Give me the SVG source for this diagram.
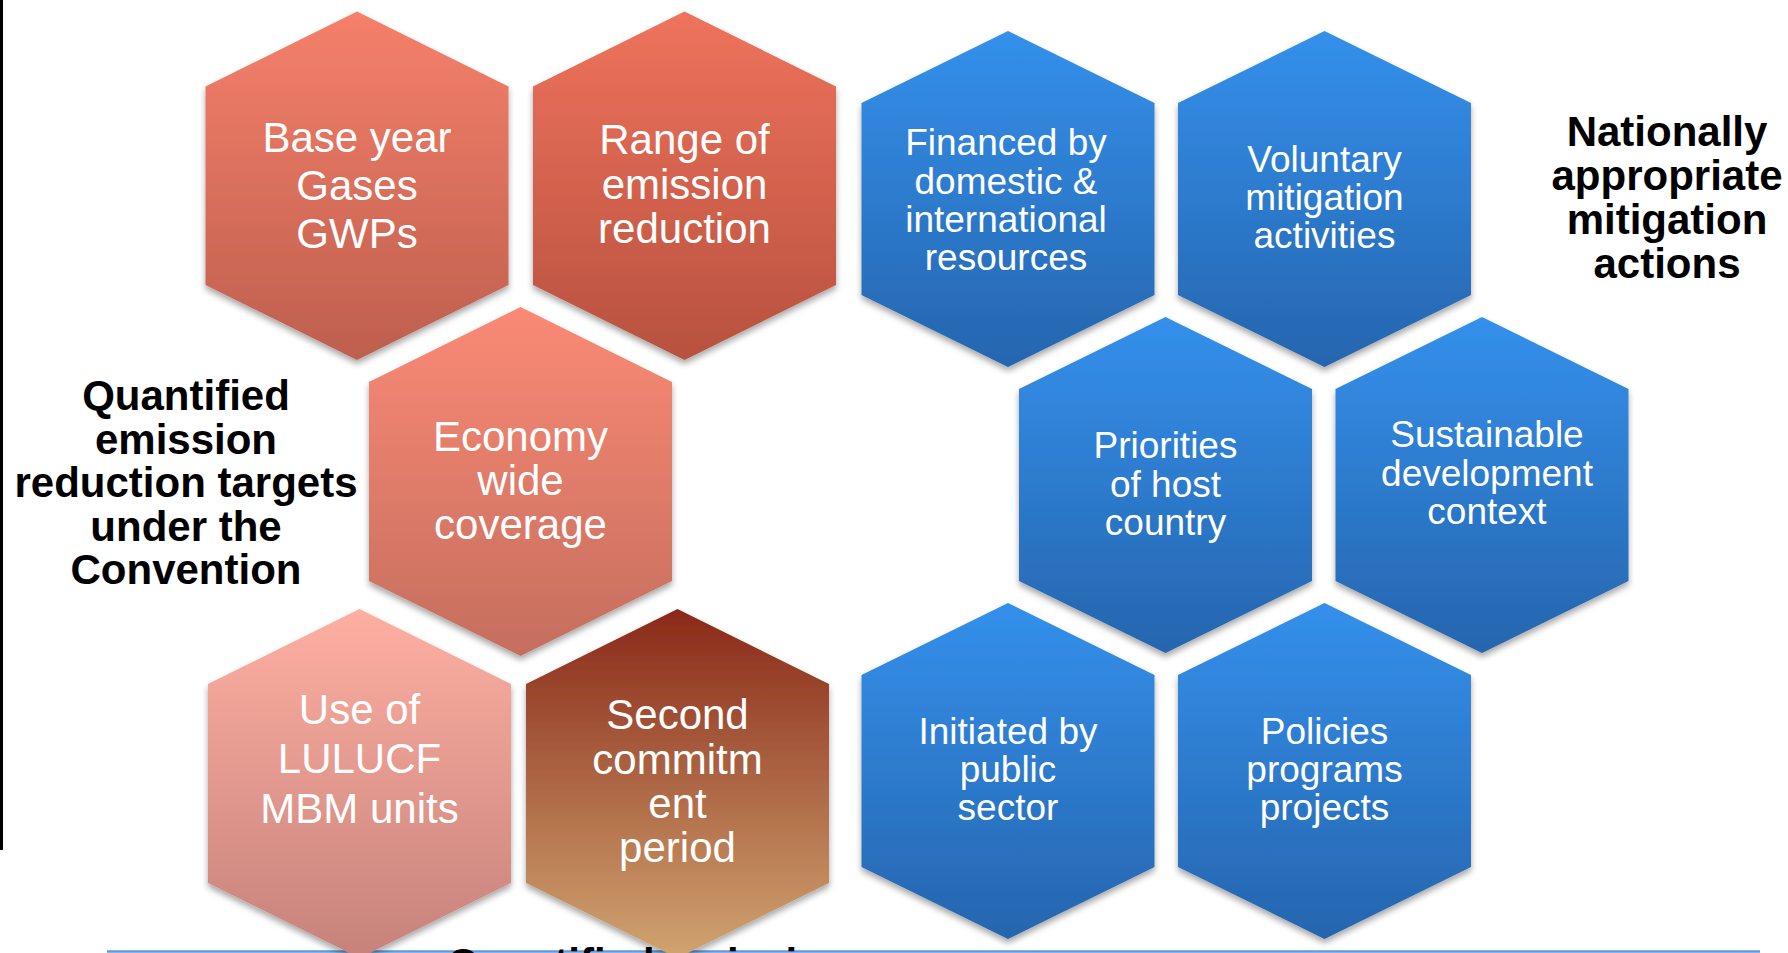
<svg xmlns="http://www.w3.org/2000/svg" width="1788" height="953" viewBox="0 0 1788 953">
<defs>
<linearGradient id="gOr1" x1="0" y1="0" x2="0" y2="1"><stop offset="0" stop-color="#F5806B"/><stop offset="1" stop-color="#BE5F4E"/></linearGradient>
<linearGradient id="gOr2" x1="0" y1="0" x2="0" y2="1"><stop offset="0" stop-color="#EF735C"/><stop offset="1" stop-color="#B7513F"/></linearGradient>
<linearGradient id="gOr3" x1="0" y1="0" x2="0" y2="1"><stop offset="0" stop-color="#FA8A75"/><stop offset="1" stop-color="#C56E5E"/></linearGradient>
<linearGradient id="gPink" x1="0" y1="0" x2="0" y2="1"><stop offset="0" stop-color="#FEAFA2"/><stop offset="1" stop-color="#C6827A"/></linearGradient>
<linearGradient id="gBrown" x1="0" y1="0" x2="0" y2="1"><stop offset="0" stop-color="#8A2919"/><stop offset="1" stop-color="#D0A470"/></linearGradient>
<linearGradient id="gBlue" x1="0" y1="0" x2="0" y2="1"><stop offset="0" stop-color="#3490EB"/><stop offset="1" stop-color="#2665AE"/></linearGradient>
<filter id="sh" x="-10%" y="-10%" width="120%" height="125%">
<feDropShadow dx="0" dy="4" stdDeviation="3" flood-color="#000" flood-opacity="0.35"/>
</filter>
</defs>
<style>
.hex{filter:url(#sh);}
.ht{font-family:"Liberation Sans",Arial,sans-serif;fill:#fff;text-anchor:middle;}
.o{font-size:42px;}
.b{font-size:37px;}
.lbl{font-family:"Liberation Sans",Arial,sans-serif;font-weight:bold;font-size:42px;fill:#000;text-anchor:middle;}
</style>
<rect width="1788" height="953" fill="#fff"/>
<rect x="0" y="0" width="3" height="850" fill="#000"/>
<line x1="107" y1="951.5" x2="1760" y2="951.5" stroke="#5B9BE0" stroke-width="2.5"/>

<g id="connectors"></g>

<g id="hex-base-year">
<polygon class="hex" fill="url(#gOr1)" points="357,11.5 508.5,86.5 508.5,285 357,360 205.5,285 205.5,86.5"/>
<text class="ht o"><tspan x="357" y="152">Base year</tspan><tspan x="357" y="200">Gases</tspan><tspan x="357" y="248">GWPs</tspan></text>
</g>
<g id="hex-range">
<polygon class="hex" fill="url(#gOr2)" points="684.5,11.5 836,86.5 836,285 684.5,360 533,285 533,86.5"/>
<text class="ht o"><tspan x="684.5" y="154">Range of</tspan><tspan x="684.5" y="198.5">emission</tspan><tspan x="684.5" y="243">reduction</tspan></text>
</g>
<g id="hex-economy">
<polygon class="hex" fill="url(#gOr3)" points="520.5,307 672,382 672,581 520.5,656 369,581 369,382"/>
<text class="ht o"><tspan x="520.5" y="451">Economy</tspan><tspan x="520.5" y="495">wide</tspan><tspan x="520.5" y="539">coverage</tspan></text>
</g>
<g id="hex-lulucf">
<polygon class="hex" fill="url(#gPink)" points="359.5,609 511,684 511,883 359.5,958 208,883 208,684"/>
<text class="ht o"><tspan x="359.5" y="724">Use of</tspan><tspan x="359.5" y="773">LULUCF</tspan><tspan x="359.5" y="823">MBM units</tspan></text>
</g>
<g id="hex-second">
<polygon class="hex" fill="url(#gBrown)" points="677.5,609 829,684 829,883 677.5,958 526,883 526,684"/>
<text class="ht o"><tspan x="677.5" y="729">Second</tspan><tspan x="677.5" y="774">commitm</tspan><tspan x="677.5" y="818">ent</tspan><tspan x="677.5" y="862">period</tspan></text>
</g>

<g id="hex-financed">
<polygon class="hex" fill="url(#gBlue)" points="1008,31 1154.5,103 1154.5,295 1008,367 861.5,295 861.5,103"/>
<text class="ht b"><tspan x="1006" y="155">Financed by</tspan><tspan x="1006" y="193.5">domestic &amp;</tspan><tspan x="1006" y="232">international</tspan><tspan x="1006" y="270">resources</tspan></text>
</g>
<g id="hex-voluntary">
<polygon class="hex" fill="url(#gBlue)" points="1324.5,31 1471,103 1471,295 1324.5,367 1178,295 1178,103"/>
<text class="ht b"><tspan x="1324.5" y="172">Voluntary</tspan><tspan x="1324.5" y="210">mitigation</tspan><tspan x="1324.5" y="248">activities</tspan></text>
</g>
<g id="hex-priorities">
<polygon class="hex" fill="url(#gBlue)" points="1165.5,317 1312,389 1312,581 1165.5,653 1019,581 1019,389"/>
<text class="ht b"><tspan x="1165.5" y="458">Priorities</tspan><tspan x="1165.5" y="497">of host</tspan><tspan x="1165.5" y="535">country</tspan></text>
</g>
<g id="hex-sustainable">
<polygon class="hex" fill="url(#gBlue)" points="1482,317 1628.5,389 1628.5,581 1482,653 1335.5,581 1335.5,389"/>
<text class="ht b"><tspan x="1487" y="447">Sustainable</tspan><tspan x="1487" y="486">development</tspan><tspan x="1487" y="524">context</tspan></text>
</g>
<g id="hex-initiated">
<polygon class="hex" fill="url(#gBlue)" points="1008,603 1154.5,675 1154.5,867 1008,939 861.5,867 861.5,675"/>
<text class="ht b"><tspan x="1008" y="744">Initiated by</tspan><tspan x="1008" y="782">public</tspan><tspan x="1008" y="820">sector</tspan></text>
</g>
<g id="hex-policies">
<polygon class="hex" fill="url(#gBlue)" points="1324.5,603 1471,675 1471,867 1324.5,939 1178,867 1178,675"/>
<text class="ht b"><tspan x="1324.5" y="744">Policies</tspan><tspan x="1324.5" y="782">programs</tspan><tspan x="1324.5" y="820">projects</tspan></text>
</g>

<g id="label-quantified">
<text class="lbl"><tspan x="186" y="410">Quantified</tspan><tspan x="186" y="454">emission</tspan><tspan x="186" y="497">reduction targets</tspan><tspan x="186" y="541">under the</tspan><tspan x="186" y="584">Convention</tspan></text>
</g>
<g id="label-nama">
<text class="lbl"><tspan x="1667" y="146">Nationally</tspan><tspan x="1667" y="190">appropriate</tspan><tspan x="1667" y="234">mitigation</tspan><tspan x="1667" y="278">actions</tspan></text>
</g>
<g id="label-bottom">
<text class="lbl" style="text-anchor:start" x="447" y="978">Quantified emission</text>
</g>
</svg>
